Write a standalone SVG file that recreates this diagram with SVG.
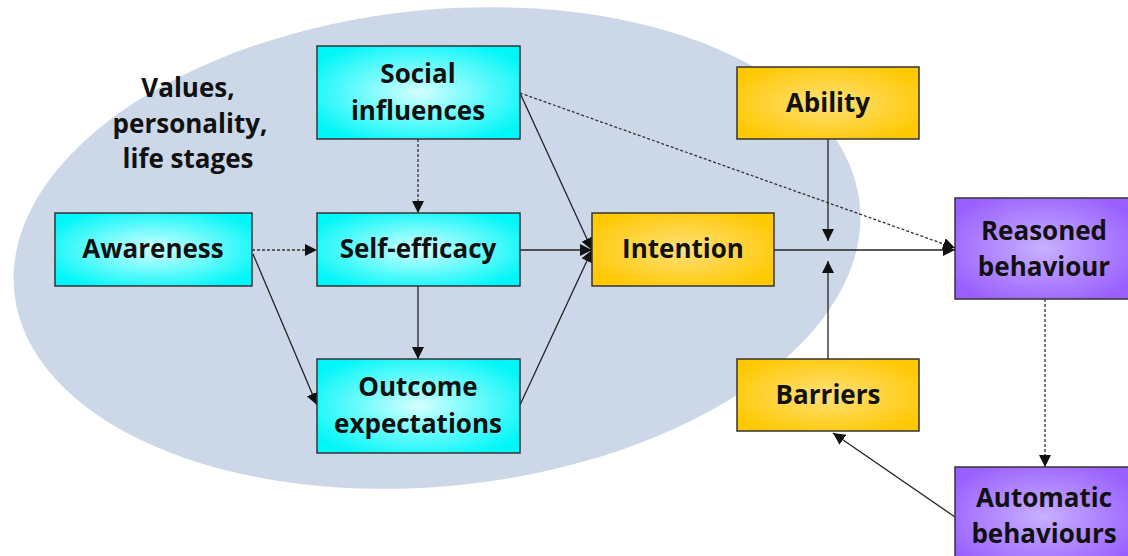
<svg xmlns="http://www.w3.org/2000/svg" width="1128" height="556" viewBox="0 0 1128 556">
<style>
.box{stroke:#333;stroke-width:1.5}
.cy{fill:url(#gc)}
.or{fill:url(#go)}
.pu{fill:url(#gp)}
text{font-family:"Open Sans","Liberation Sans",sans-serif;font-weight:700;font-size:26px;fill:#111;text-anchor:middle}
.ln{stroke:#222;stroke-width:1.3;fill:none}
.da{stroke:#333;stroke-width:1.3;fill:none;stroke-dasharray:3 2}
</style>
<defs>
<radialGradient id="gc" cx="50%" cy="50%" r="60%"><stop offset="0" stop-color="#d4ffff"/><stop offset="1" stop-color="#00f6f8"/></radialGradient>
<radialGradient id="go" cx="50%" cy="50%" r="60%"><stop offset="0" stop-color="#ffe07a"/><stop offset="1" stop-color="#ffc800"/></radialGradient>
<radialGradient id="gp" cx="50%" cy="50%" r="60%"><stop offset="0" stop-color="#c8b0ff"/><stop offset="1" stop-color="#9a60ff"/></radialGradient>
<marker id="ah" viewBox="0 0 10 10" refX="10" refY="5" markerWidth="12" markerHeight="12" markerUnits="userSpaceOnUse" orient="auto"><path d="M0,0 L10,5 L0,10 z" fill="#111"/></marker>
</defs>
<rect width="1128" height="556" fill="#fff"/>
<g id="background">
<ellipse cx="437" cy="248" rx="425" ry="238" fill="#ccd8e8" transform="rotate(-6 437 248)"/>
<text x="188" y="97">Values,</text>
<text x="190" y="133">personality,</text>
<text x="188" y="168">life stages</text>
</g>
<g id="connectors">
<line class="da" x1="418" y1="139" x2="418" y2="213" marker-end="url(#ah)"/>
<line class="da" x1="252" y1="250" x2="317" y2="250" marker-end="url(#ah)"/>
<line class="ln" x1="253" y1="254" x2="317" y2="405" marker-end="url(#ah)"/>
<line class="ln" x1="418" y1="286" x2="418" y2="359" marker-end="url(#ah)"/>
<line class="ln" x1="520" y1="250" x2="592" y2="250" marker-end="url(#ah)"/>
<line class="ln" x1="520" y1="93" x2="592" y2="250" marker-end="url(#ah)"/>
<line class="ln" x1="520" y1="405" x2="592" y2="250" marker-end="url(#ah)"/>
<line class="da" x1="520" y1="93" x2="955" y2="248" marker-end="url(#ah)"/>
<line class="ln" x1="774" y1="250" x2="955" y2="250" marker-end="url(#ah)"/>
<line class="ln" x1="828" y1="139" x2="828" y2="241" marker-end="url(#ah)"/>
<line class="ln" x1="828" y1="359" x2="828" y2="261" marker-end="url(#ah)"/>
<line class="da" x1="1045" y1="299" x2="1045" y2="467" marker-end="url(#ah)"/>
<line class="ln" x1="955" y1="517" x2="833" y2="433" marker-end="url(#ah)"/>
</g>
<g id="social-influences"><rect class="box cy" x="317" y="46" width="203" height="93"/><text x="418" y="83">Social</text><text x="418" y="120">influences</text></g>
<g id="awareness"><rect class="box cy" x="55" y="213" width="197" height="73"/><text x="153" y="258">Awareness</text></g>
<g id="self-efficacy"><rect class="box cy" x="317" y="213" width="203" height="73"/><text x="418" y="258">Self-efficacy</text></g>
<g id="outcome-expectations"><rect class="box cy" x="317" y="359" width="203" height="94"/><text x="418" y="396">Outcome</text><text x="418" y="433">expectations</text></g>
<g id="intention"><rect class="box or" x="592" y="213" width="182" height="73"/><text x="683" y="258">Intention</text></g>
<g id="ability"><rect class="box or" x="737" y="67" width="182" height="72"/><text x="828" y="112">Ability</text></g>
<g id="barriers"><rect class="box or" x="737" y="359" width="182" height="72"/><text x="828" y="404">Barriers</text></g>
<g id="reasoned-behaviour"><rect class="box pu" x="955" y="198" width="175" height="101"/><text x="1044" y="240">Reasoned</text><text x="1044" y="276">behaviour</text></g>
<g id="automatic-behaviours"><rect class="box pu" x="955" y="467" width="175" height="100"/><text x="1044" y="507">Automatic</text><text x="1044" y="543">behaviours</text></g>
</svg>
